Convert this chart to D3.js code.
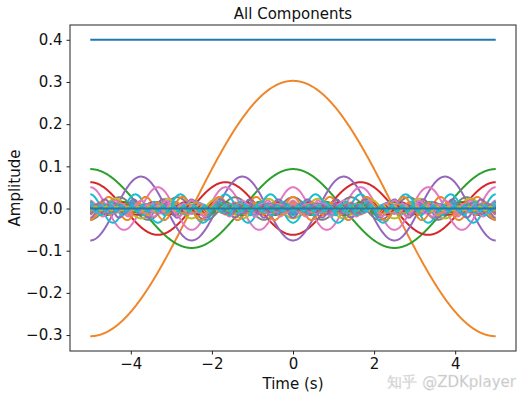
<!DOCTYPE html>
<html><head><meta charset="utf-8">
<script src="https://cdn.jsdelivr.net/npm/d3@7"></script>
<style>body{margin:0;background:#fff}svg{display:block}text{font-family:"DejaVu Sans",sans-serif}</style>
</head><body><svg id="c" width="526" height="399"></svg>
<script>
// Harmonic index (0 = DC term) and amplitude of each cosine component
const harmonics = [0,1,2,3,4,5,6,7,8,9,10,11,12,13,14,15,16,17,18,19,20,21,22,23,24,25,26,27,28,29,30,31,32,33,34,35,36,37,38,39,40];
const amplitudes = [0.4,0.3027,0.0935,-0.0624,-0.0757,0,0.0505,0.0267,-0.0234,-0.0336,0,0.0275,0.0156,-0.0144,-0.0216,0,0.0189,0.0110,-0.0104,-0.0159,0,0.0144,0.0085,-0.0081,-0.0126,0,0.0116,0.0069,-0.0067,-0.0104,0,0.0098,0.0058,-0.0057,-0.0089,0,0.0084,0.0051,-0.0049,-0.0078,0];
const period = 10;            // seconds
const timeRange = [-5, 5];
const xTicks = [-4,-2,0,2,4];
const yTicks = [-0.3,-0.2,-0.1,0.0,0.1,0.2,0.3,0.4];
const colors = ["#1f77b4","#f0862a","#2ca02c","#d62728","#9467bd","#8c564b","#e377c2","#7f7f7f","#bcbd22","#17becf"];

const svg = d3.select("#c");
const L=70, R=516, T=25, B=351;
const x = d3.scaleLinear().domain([-5.5,5.5]).range([L,R]);
const y = d3.scaleLinear().domain([-0.3378,0.4351]).range([B,T]);

const N = 1000;
const ts = d3.range(N).map(i => timeRange[0] + (timeRange[1]-timeRange[0])*i/(N-1));
const line = d3.line().x(d=>x(d[0])).y(d=>y(d[1]));

svg.append("defs").append("clipPath").attr("id","clip").append("rect")
  .attr("x",L).attr("y",T).attr("width",R-L).attr("height",B-T);
const g = svg.append("g").attr("clip-path","url(#clip)");
harmonics.forEach((n,i)=>{
  const a = amplitudes[i];
  const pts = ts.map(t=>[t, a*Math.cos(2*Math.PI*n*t/period)]);
  g.append("path").attr("d",line(pts)).attr("fill","none")
    .attr("stroke",colors[i%10]).attr("stroke-width",2).attr("stroke-linejoin","round");
});

// frame
svg.append("rect").attr("x",L).attr("y",T).attr("width",R-L).attr("height",B-T)
  .attr("fill","none").attr("stroke","#222").attr("stroke-width",1);

// axes
const xa = svg.append("g").attr("transform",`translate(0,${B})`)
  .call(d3.axisBottom(x).tickValues(xTicks).tickSize(3.5).tickPadding(4).tickFormat(d=>d<0?"\u2212"+Math.abs(d):d));
const ya = svg.append("g").attr("transform",`translate(${L},0)`)
  .call(d3.axisLeft(y).tickValues(yTicks).tickSize(3.5).tickPadding(4).tickFormat(d=>{const s=Math.abs(d).toFixed(1);return d<-1e-9?"\u2212"+s:s;}));
[xa,ya].forEach(a=>{a.select(".domain").remove();a.selectAll("line").attr("stroke","#222");
  a.selectAll("text").attr("font-size",15).attr("fill","#111").attr("font-family","DejaVu Sans");});

svg.append("text").attr("x",(L+R)/2).attr("y",19).attr("text-anchor","middle").attr("font-size",15).attr("fill","#111").text("All Components");
svg.append("text").attr("x",(L+R)/2).attr("y",389).attr("text-anchor","middle").attr("font-size",15).attr("fill","#111").text("Time (s)");
svg.append("text").attr("transform",`translate(20,${(T+B)/2}) rotate(-90)`).attr("text-anchor","middle").attr("font-size",15).attr("fill","#111").text("Amplitude");

// watermark
svg.append("text").attr("x",516).attr("y",387).attr("text-anchor","end").attr("font-size",15)
  .attr("font-family","Noto Sans CJK SC, DejaVu Sans").attr("fill","#bdbdbd")
  .attr("stroke","#ececec").attr("stroke-width",0.4).text("知乎 @ZDKplayer");
</script></body></html>
